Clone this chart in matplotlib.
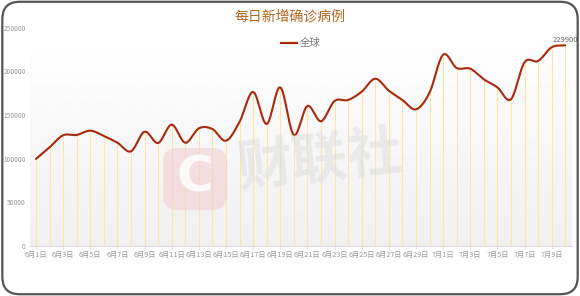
import numpy as np
import matplotlib
matplotlib.use('Agg')
import matplotlib.pyplot as plt
from matplotlib.patches import FancyBboxPatch

plt.rcParams['font.family'] = ['Noto Sans CJK SC', 'DejaVu Sans']

# 每日新增确诊病例 (全球), 6月1日 - 7月10日
dates = [f'6月{d}日' for d in range(1, 31)] + [f'7月{d}日' for d in range(1, 11)]
cases = [99500, 112800, 126600, 127000, 131900, 125800, 118100, 108200, 130700, 117800,
         138800, 118100, 134600, 133800, 120400, 142000, 176300, 139600, 181600, 127000,
         160200, 142700, 165900, 167100, 176600, 191500, 177800, 167100, 156400, 175500,
         219000, 203800, 203000, 190800, 181600, 167900, 210300, 211800, 227500, 229900]
yticks = [0, 50000, 100000, 150000, 200000, 250000]

line_color = '#a8290c'
drop_color = '#fbe6a8'
title_color = '#b3681e'


def catmull(x, y, n=20):
    # 平滑曲线 (只用于画线)
    x = np.asarray(x, float)
    y = np.asarray(y, float)
    px = np.concatenate([[2 * x[0] - x[1]], x, [2 * x[-1] - x[-2]]])
    py = np.concatenate([[2 * y[0] - y[1]], y, [2 * y[-1] - y[-2]]])
    xs, ys = [], []
    for i in range(1, len(px) - 2):
        t = np.linspace(0, 1, n, endpoint=False)
        for p, out in ((px, xs), (py, ys)):
            p0, p1, p2, p3 = p[i - 1], p[i], p[i + 1], p[i + 2]
            out.append(0.5 * ((2 * p1) + (-p0 + p2) * t + (2 * p0 - 5 * p1 + 4 * p2 - p3) * t ** 2
                              + (-p0 + 3 * p1 - 3 * p2 + p3) * t ** 3))
    xs.append([x[-1]])
    ys.append([y[-1]])
    return np.concatenate(xs), np.concatenate(ys)


fig = plt.figure(figsize=(5.8, 2.96), dpi=100)
fig.patch.set_facecolor('white')

# 圆角边框
border = FancyBboxPatch((0.004, 0.006), 0.992, 0.988, boxstyle='round,pad=0,rounding_size=0.03',
                        transform=fig.transFigure, facecolor='none', edgecolor='#555555', lw=1.6,
                        mutation_aspect=580 / 296)
fig.patches.append(border)

ax = fig.add_axes([30 / 580, (296 - 245.7) / 296, 542 / 580, 218 / 296])
x = np.arange(len(cases))
ax.set_xlim(-0.44, 39.5)
ax.set_ylim(0, 250000)

# 背景渐变
grad = np.linspace(1.0, 0.94, 100).reshape(-1, 1)
ax.imshow(grad, cmap='gray', vmin=0, vmax=1, aspect='auto', extent=[-0.44, 39.5, 0, 250000],
          zorder=0, origin='upper')

# 水印
fig.patches.append(FancyBboxPatch((163 / 580, (296 - 210) / 296), 64 / 580, 62 / 296,
                                  boxstyle='round,pad=0,rounding_size=0.025',
                                  transform=fig.transFigure, facecolor='#f3c9cc', edgecolor='none',
                                  alpha=0.5, zorder=1, mutation_aspect=580 / 296))
fig.text(195 / 580, (296 - 178) / 296, 'C', fontsize=36, fontweight='bold', color='white',
         alpha=0.85, ha='center', va='center', family='DejaVu Sans')
fig.text(320 / 580, (296 - 162) / 296, '财联社', fontsize=40, fontweight='bold', color='#dcdcdc',
         alpha=0.5, ha='center', va='center', rotation=6)

ax.vlines(x, 0, cases, color=drop_color, lw=0.8, zorder=2)
sx, sy = catmull(x, cases)
ax.plot(sx, sy, color=line_color, lw=1.5, zorder=3, solid_capstyle='round')
ax.text(x[-1], cases[-1] + 1500, str(cases[-1]), fontsize=5.5, color='#666666',
        ha='center', va='bottom', zorder=4)

for s in ['top', 'right', 'left']:
    ax.spines[s].set_visible(False)
ax.spines['bottom'].set_color('#dddddd')
ax.set_yticks(yticks)
ax.set_yticklabels([str(v) for v in yticks], fontsize=4.8, color='#999999')
ax.tick_params(axis='y', length=0, pad=3)
ax.set_xticks(x[::2])
ax.set_xticklabels(dates[::2], fontsize=5.2, color='#999999')
ax.tick_params(axis='x', length=2, color='#dddddd', pad=2)

fig.text(0.5, (296 - 17) / 296, '每日新增确诊病例', fontsize=10, color=title_color,
         ha='center', va='center', fontweight='medium')
fig.add_artist(plt.Line2D([281 / 580, 297 / 580], [(296 - 43) / 296] * 2, color=line_color, lw=1.6))
fig.text(300 / 580, (296 - 43) / 296, '全球', fontsize=7.5, color='#777777', ha='left', va='center')

fig.savefig('out.png', dpi=100)
